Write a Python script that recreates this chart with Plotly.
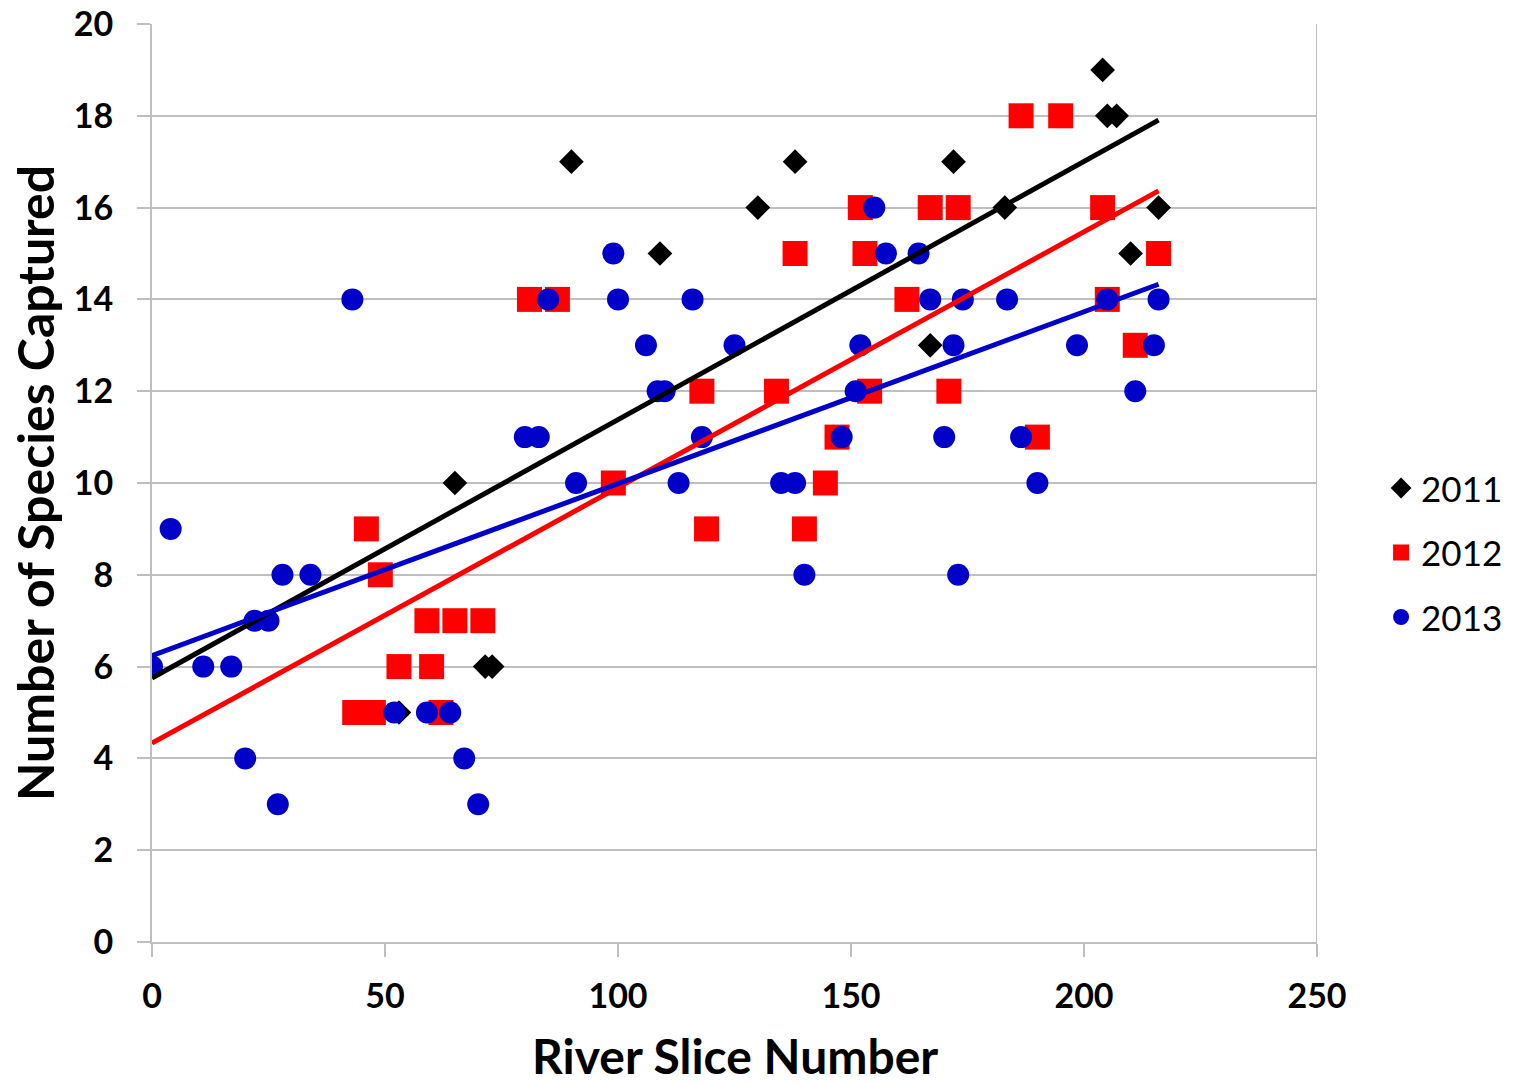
import numpy as np
import plotly.graph_objects as go

# ---- data ----
x2011 = [53, 65, 71.5, 73, 90, 109, 130, 138, 167, 172, 183, 204, 205, 207, 210, 216, 216]
y2011 = [5, 10, 6, 6, 17, 15, 16, 17, 13, 17, 16, 19, 18, 18, 15, 16, 15]

x2012 = [46, 49, 59, 65, 71, 53, 60, 43.5, 47.5, 62, 81, 87, 118, 99, 119,
         152, 167, 173, 138, 153, 162, 134, 154, 171, 147, 144.5, 140,
         186.5, 195, 204, 216, 205, 211, 190]
y2012 = [9, 8, 7, 7, 7, 6, 6, 5, 5, 5, 14, 14, 12, 10, 9,
         16, 16, 16, 15, 15, 14, 12, 12, 12, 11, 10, 9,
         18, 18, 16, 15, 14, 13, 11]

x2013 = [0, 4, 11, 17, 20, 27, 28, 34, 22, 25, 52, 59, 64, 67, 70,
         43, 85, 99, 100, 116, 106, 125, 108.5, 110, 80, 83, 118, 91, 113,
         155, 157.5, 164.5, 167, 174, 152, 172, 151, 148, 170, 135, 138, 140, 173,
         183.5, 205, 216, 198.5, 215, 211, 186.5, 190]
y2013 = [6, 9, 6, 6, 4, 3, 8, 8, 7, 7, 5, 5, 5, 4, 3,
         14, 14, 15, 14, 14, 13, 13, 12, 12, 11, 11, 11, 10, 10,
         16, 15, 15, 14, 14, 13, 13, 12, 11, 11, 10, 10, 8, 8,
         14, 14, 14, 13, 13, 12, 11, 10]

series_names = ["2011", "2012", "2013"]
colors = ["#000000", "#FF0000", "#0000C8"]
symbols = ["diamond", "square", "circle"]
sizes = [19, 25, 22]

x_ticks = [0, 50, 100, 150, 200, 250]
y_ticks = [0, 2, 4, 6, 8, 10, 12, 14, 16, 18, 20]
x_title = "River Slice Number"
y_title = "Number of Species Captured"

FONT = "Lato"
fig = go.Figure()

data = [(x2011, y2011), (x2012, y2012), (x2013, y2013)]

for (xs, ys), c, s, sz, name in zip(data, colors, symbols, sizes, series_names):
    fig.add_trace(go.Scatter(x=xs, y=ys, mode="markers", name=name,
                             legendgroup=name,
                             marker=dict(color=c, symbol=s, size=sz,
                                         line=dict(width=0))))

# linear trend lines (least-squares), drawn from x = 0 to the last point
for (xs, ys), c, name in zip(data, colors, series_names):
    xa = np.array(xs, dtype=float)
    ya = np.array(ys, dtype=float)
    k, b = np.polyfit(xa, ya, 1)
    xl = np.array([0.0, xa.max()])
    fig.add_trace(go.Scatter(x=xl, y=k * xl + b, mode="lines",
                             line=dict(color=c, width=5), showlegend=False,
                             hoverinfo="skip"))

fig.update_layout(
    width=1521, height=1085,
    margin=dict(l=152, r=204, t=24, b=143),
    paper_bgcolor="white", plot_bgcolor="white",
    font=dict(family=FONT, color="black"),
    showlegend=True,
    legend=dict(x=1.055, y=0.424, xanchor="left", yanchor="middle",
                font=dict(size=35, family=FONT), traceorder="grouped",
                tracegroupgap=16, itemwidth=30, bgcolor="rgba(0,0,0,0)"),
    xaxis=dict(range=[0, 250], tickvals=x_ticks, ticktext=[str(v) for v in x_ticks],
               showgrid=False, zeroline=False, showline=True, automargin=False,
               linecolor="#BFBFBF", linewidth=2, mirror=False,
               ticks="outside", ticklen=13, tickwidth=2, tickcolor="#BFBFBF",
               tickfont=dict(size=34, family=FONT, weight="bold"),
               ticklabelstandoff=10),
    yaxis=dict(range=[0, 20], tickvals=y_ticks, ticktext=[str(v) for v in y_ticks],
               showgrid=True, gridcolor="#BFBFBF", gridwidth=2, zeroline=False,
               showline=True, linecolor="#BFBFBF", linewidth=2, automargin=False,
               ticks="outside", ticklen=13, tickwidth=2, tickcolor="#BFBFBF",
               tickfont=dict(size=34, family=FONT, weight="bold"),
               ticklabelstandoff=17),
    annotations=[
        dict(text=x_title, xref="paper", yref="paper", x=0.5, y=-0.124,
             xanchor="center", yanchor="middle", showarrow=False,
             font=dict(size=48, family=FONT, weight="bold")),
        dict(text=y_title, xref="paper", yref="paper", x=-0.1004, y=0.5,
             xanchor="center", yanchor="middle", showarrow=False, textangle=-90,
             font=dict(size=50, family=FONT, weight="bold")),
    ],
)

# right border of plot area (x = 250)
fig.add_shape(type="line", xref="x", yref="y", x0=250, x1=250, y0=0, y1=20,
              line=dict(color="#BFBFBF", width=2), layer="below")

fig.write_html("out.html")
